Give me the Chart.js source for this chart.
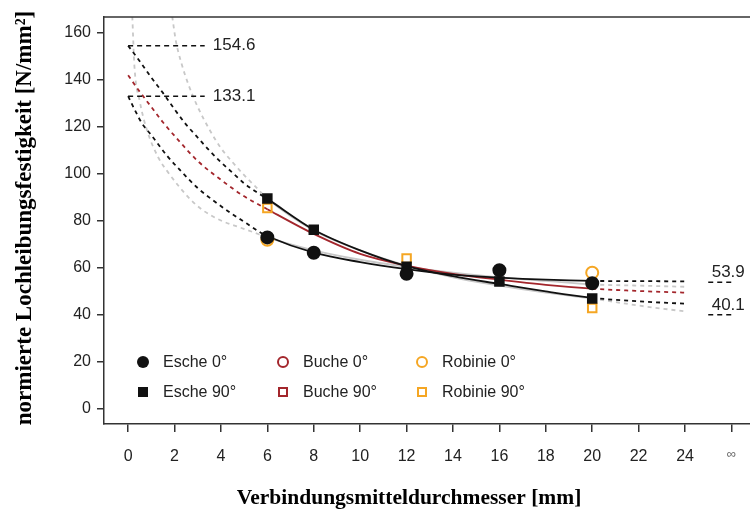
<!DOCTYPE html>
<html lang="de">
<head>
<meta charset="UTF-8" />
<title>Lochleibungsfestigkeit</title>
<script src="https://cdn.jsdelivr.net/npm/chart.js"></script>
<style>
  html, body { margin: 0; padding: 0; background: #fff; }
</style>
</head>
<body>
<canvas id="chart" width="750" height="511"></canvas>
<script>
  // Messpunkte
  const esche0X = [6, 8, 12, 16, 20];
  const esche0 = [73, 66.5, 57.5, 59, 53.5];
  const esche90X = [6, 8, 12, 16, 20];
  const esche90 = [89.6, 76.3, 60.5, 54.2, 47];
  const robinie0X = [6, 20];
  const robinie0 = [72, 58];
  const robinie90X = [6, 12, 20];
  const robinie90 = [85.5, 64, 43];

  // Ausgleichskurven
  const fitEsche0X = [0, 0.3, 0.6, 1, 1.7, 2.3, 3, 3.7, 4.4, 5.1, 5.8, 6, 8, 10, 12, 14, 16, 18, 20, 22, 24];
  const fitEsche0 = [133.1, 127, 121.5, 116.5, 107.5, 101, 94, 88.5, 83.5, 79, 74.5, 73.5, 66.5, 62.5, 59.5, 57.2, 55.9, 55, 54.5, 54.4, 54.3];
  const fitEsche90X = [0, 0.5, 1, 1.5, 2, 2.5, 3, 3.5, 4, 4.5, 5, 5.5, 6, 8, 10, 12, 14, 16, 18, 20, 22, 24];
  const fitEsche90 = [154.6, 148, 141, 134.5, 127.5, 121, 115.5, 110, 105, 100.5, 96, 92.5, 89.4, 76.3, 67.5, 60.8, 56.5, 53.2, 50, 47.3, 45.8, 44.8];
  const fitBucheX = [0, 0.5, 1, 1.5, 2.2, 3, 4, 5, 6, 8, 10, 12, 14, 16, 18, 20, 22, 24];
  const fitBuche = [142, 135, 128.5, 122, 114, 105.5, 97.5, 90.5, 85, 74.5, 66, 61, 57.5, 55, 52.8, 51.2, 50.2, 49.5];
  const fitGrau1X = [0.18, 0.27, 0.5, 0.8, 1.3, 1.7, 2.2, 2.7, 3.2, 4, 4.8, 5.4, 6, 8, 10, 12, 14, 16, 18, 20, 22, 24];
  const fitGrau1 = [167, 146, 131, 119, 107, 101, 94.6, 89, 84.7, 80.2, 77.3, 75.2, 73, 67.5, 63.5, 60.5, 58, 56, 54.5, 53, 52.5, 52];
  const fitGrau2X = [1.9, 2.05, 2.3, 2.6, 3, 3.5, 4, 4.5, 5, 5.5, 6, 8, 10, 12, 14, 16, 18, 20, 22, 24];
  const fitGrau2 = [167, 157, 147, 138, 128.5, 119, 111, 105, 99.5, 94.5, 89.5, 76, 67.5, 61, 56, 52.5, 49.5, 47, 44, 41.5];

  // Grenzwerte d -> 0 und d -> unendlich
  const grenzeNull = [154.6, 133.1];
  const grenzeUnendlich = [53.9, 40.1];

  const xTicks = [0, 2, 4, 6, 8, 10, 12, 14, 16, 18, 20, 22, 24, 26];
  const yTicks = [0, 20, 40, 60, 80, 100, 120, 140, 160];

  const legende = [
    { text: "Esche 0°", style: "circle", color: "#111", fill: true },
    { text: "Buche 0°", style: "circle", color: "#a3262c", fill: false },
    { text: "Robinie 0°", style: "circle", color: "#f5a623", fill: false },
    { text: "Esche 90°", style: "rect", color: "#111", fill: true },
    { text: "Buche 90°", style: "rect", color: "#a3262c", fill: false },
    { text: "Robinie 90°", style: "rect", color: "#f5a623", fill: false }
  ];

  const pts = (xs, ys) => xs.map((x, i) => ({ x: x, y: ys[i] }));
  const dashSeg = ctx => (ctx.p0.parsed.x < 6 || ctx.p1.parsed.x > 20) ? [4, 4] : undefined;

  function kurve(xs, ys, color, order) {
    return {
      data: pts(xs, ys), borderColor: color, borderWidth: 1.8, pointRadius: 0,
      cubicInterpolationMode: "monotone", order: order, segment: { borderDash: dashSeg }
    };
  }
  function marker(xs, ys, style, color, fill, r) {
    return {
      data: pts(xs, ys), showLine: false, pointStyle: style, pointRadius: r,
      pointBorderColor: color, pointBackgroundColor: fill ? color : "rgba(0,0,0,0)",
      pointBorderWidth: 2, order: 0
    };
  }
  function grenzLinie(x0, x1, y) {
    return {
      data: [{ x: x0, y: y }, { x: x1, y: y }], borderColor: "#111", borderWidth: 1.5,
      borderDash: [5, 4], pointRadius: 0, order: 1
    };
  }

  const datasets = [
    marker(esche0X, esche0, "circle", "#111", true, 6),
    marker(esche90X, esche90, "rect", "#111", true, 6),
    marker(robinie0X, robinie0, "circle", "#f5a623", false, 6),
    marker(robinie90X, robinie90, "rect", "#f5a623", false, 6),
    kurve(fitEsche0X, fitEsche0, "#111", 1),
    kurve(fitEsche90X, fitEsche90, "#111", 1),
    kurve(fitBucheX, fitBuche, "#a3262c", 2),
    kurve(fitGrau1X, fitGrau1, "#c8c8c8", 3),
    kurve(fitGrau2X, fitGrau2, "#c8c8c8", 3),
    grenzLinie(0, 3.3, grenzeNull[0]),
    grenzLinie(0, 3.3, grenzeNull[1]),
    grenzLinie(25, 26.05, grenzeUnendlich[0]),
    grenzLinie(25, 26.05, grenzeUnendlich[1])
  ];

  const extras = {
    id: "extras",
    afterDraw(chart) {
      const c = chart.ctx, a = chart.chartArea;
      const xs = chart.scales.x, ys = chart.scales.y;
      c.save();
      // oberer Rahmen
      c.strokeStyle = "#333"; c.lineWidth = 1.5;
      c.beginPath(); c.moveTo(a.left, a.top); c.lineTo(a.right, a.top); c.stroke();

      // Grenzwert-Beschriftungen
      c.fillStyle = "#222";
      c.font = "17px 'Liberation Sans', Arial, sans-serif";
      c.textAlign = "left"; c.textBaseline = "middle";
      grenzeNull.forEach(v => c.fillText(v.toFixed(1), xs.getPixelForValue(3.65), ys.getPixelForValue(v)));
      c.textBaseline = "alphabetic";
      grenzeUnendlich.forEach(v => c.fillText(v.toFixed(1), xs.getPixelForValue(25.15), ys.getPixelForValue(v) - 5));

      // Legende
      c.font = "16px 'Liberation Sans', Arial, sans-serif";
      c.textBaseline = "middle";
      const colX = [143, 283, 422], rowY = [362, 392];
      legende.forEach((it, i) => {
        const x = colX[i % 3], y = rowY[Math.floor(i / 3)];
        c.strokeStyle = it.color; c.fillStyle = it.color; c.lineWidth = 2;
        c.beginPath();
        if (it.style === "circle") c.arc(x, y, it.fill ? 6 : 5, 0, Math.PI * 2);
        else if (it.fill) c.rect(x - 5, y - 5, 10, 10);
        else c.rect(x - 4, y - 4, 8, 8);
        if (it.fill) c.fill(); else c.stroke();
        c.fillStyle = "#222";
        c.fillText(it.text, x + 20, y + 1);
      });

      // Achsentitel
      c.fillStyle = "#000";
      c.textAlign = "center";
      c.font = "bold 21.5px 'Liberation Serif', 'Times New Roman', serif";
      c.fillText("Verbindungsmitteldurchmesser [mm]", 409, 498);
      c.translate(25, 218);
      c.rotate(-Math.PI / 2);
      c.font = "bold 23px 'Liberation Serif', 'Times New Roman', serif";
      c.fillText("normierte Lochleibungsfestigkeit [N/mm²]", 0, 0);
      c.restore();
    }
  };

  new Chart(document.getElementById("chart"), {
    type: "line",
    data: { datasets: datasets },
    plugins: [extras],
    options: {
      responsive: false,
      animation: false,
      layout: { autoPadding: false, padding: { top: 17, right: 0, left: 0, bottom: 0 } },
      plugins: { legend: { display: false }, tooltip: { enabled: false } },
      scales: {
        x: {
          type: "linear", min: -1.04, max: 26.8,
          afterBuildTicks: s => { s.ticks = xTicks.map(v => ({ value: v })); },
          afterFit: s => { s.height = 87; s.paddingLeft = 0; s.paddingRight = 0; },
          border: { color: "#333", width: 1.5 },
          grid: { drawOnChartArea: false, tickLength: 8, color: "#333", lineWidth: 1.5 },
          ticks: {
            padding: 15, maxRotation: 0, autoSkip: false,
            color: ctx => ctx.tick && ctx.tick.value === 26 ? "#666" : "#222",
            font: ctx => ({ family: "'Liberation Sans', Arial, sans-serif", size: ctx.tick && ctx.tick.value === 26 ? 13 : 16 }),
            callback: v => v === 26 ? "∞" : v
          }
        },
        y: {
          type: "linear", min: -6.4, max: 166.8,
          afterBuildTicks: s => { s.ticks = yTicks.map(v => ({ value: v })); },
          afterFit: s => { s.width = 104; s.paddingTop = 0; s.paddingBottom = 0; },
          border: { color: "#333", width: 1.5 },
          grid: { drawOnChartArea: false, tickLength: 7, color: "#333", lineWidth: 1.5 },
          ticks: {
            color: "#222", padding: 6,
            font: { family: "'Liberation Sans', Arial, sans-serif", size: 16 }
          }
        }
      }
    }
  });
</script>
</body>
</html>
